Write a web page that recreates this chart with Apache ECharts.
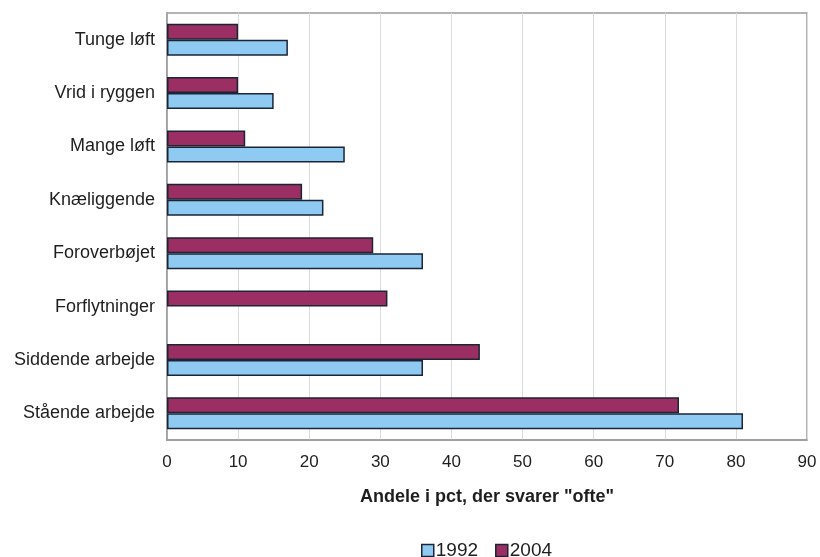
<!DOCTYPE html>
<html>
<head>
<meta charset="utf-8">
<style>
  html, body { margin: 0; padding: 0; background: #ffffff; }
  #chart { width: 820px; height: 557px; }
</style>
<script src="https://cdn.jsdelivr.net/npm/echarts@6/dist/echarts.min.js"></script>
</head>
<body>
<div id="chart"></div>
<script>
// Physical strain at work: share answering "often", 1992 vs 2004
const categories = [
  'Tunge løft',
  'Vrid i ryggen',
  'Mange løft',
  'Knæliggende',
  'Foroverbøjet',
  'Forflytninger',
  'Siddende arbejde',
  'Stående arbejde'
];
const values1992 = [17, 15, 25, 22, 36, null, 36, 81];
const values2004 = [10, 10, 11, 19, 29, 31, 44, 72];
const seriesNames = ['1992', '2004'];
const xTicks = { min: 0, max: 90, interval: 10 };

const FONT = '"Liberation Sans", Arial, Helvetica, sans-serif';
const TEXT = '#1e1e1e';
const OUTLINE = '#1b2535';

const chart = echarts.init(document.getElementById('chart'), null, { renderer: 'canvas' });

chart.setOption({
  animation: false,
  backgroundColor: '#ffffff',
  textStyle: { fontFamily: FONT, color: TEXT },
  grid: {
    left: 167, right: 13, top: 13, bottom: 117,
    show: true, borderColor: '#9a9a9a', borderWidth: 1.5,
    containLabel: false
  },
  legend: {
    data: seriesNames,
    top: 536,
    left: 416,
    icon: 'rect',
    itemWidth: 12,
    itemHeight: 12,
    itemGap: 17,
    itemStyle: { borderColor: OUTLINE, borderWidth: 1.5 },
    textStyle: { fontFamily: FONT, fontSize: 19, color: TEXT, padding: [0, 0, 0, -3] }
  },
  xAxis: {
    type: 'value',
    min: xTicks.min,
    max: xTicks.max,
    interval: xTicks.interval,
    name: 'Andele i pct, der svarer "ofte"',
    nameLocation: 'middle',
    nameGap: 48,
    nameTextStyle: { fontFamily: FONT, fontSize: 18, fontWeight: 'bold', color: TEXT },
    axisLine: { show: true, lineStyle: { color: '#9a9a9a', width: 1.5 } },
    axisTick: { show: false },
    axisLabel: { fontFamily: FONT, fontSize: 17, color: TEXT, margin: 14 },
    splitLine: { show: true, lineStyle: { color: '#dcdcdc', width: 1 } }
  },
  yAxis: {
    type: 'category',
    data: categories,
    inverse: true,
    axisLine: { show: true, lineStyle: { color: '#9a9a9a', width: 1.5 } },
    axisTick: { show: false },
    axisLabel: { fontFamily: FONT, fontSize: 18, color: TEXT, margin: 12 },
    splitLine: { show: false }
  },
  // 2004 is listed first so it sits above 1992 within each category band
  series: [
    {
      name: '2004',
      type: 'bar',
      data: values2004,
      barGap: '0%',
      barCategoryGap: '40%',
      itemStyle: { color: '#9b2f63', borderColor: OUTLINE, borderWidth: 1.5 }
    },
    {
      name: '1992',
      type: 'bar',
      data: values1992,
      barGap: '0%',
      barCategoryGap: '40%',
      itemStyle: { color: '#8ecaf2', borderColor: OUTLINE, borderWidth: 1.5 }
    }
  ]
});
</script>
</body>
</html>
